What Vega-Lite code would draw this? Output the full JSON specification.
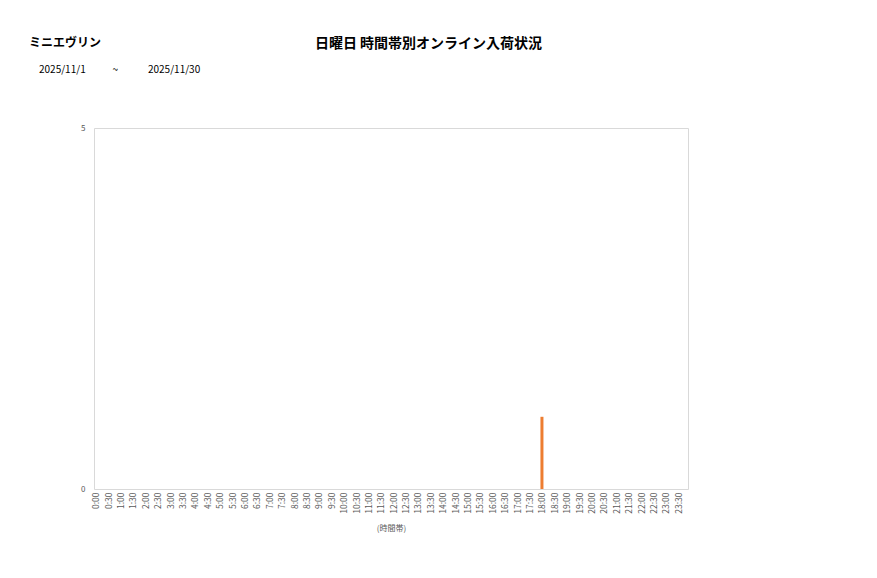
{
  "$schema": "https://vega.github.io/schema/vega-lite/v6.json",
  "autosize": "none",
  "width": 594,
  "height": 361,
  "padding": {"left": 94, "top": 128, "right": 189, "bottom": 89},
  "background": "white",
  "config": {
    "font": "Noto Sans CJK JP",
    "view": {"stroke": "#d9d9d9", "strokeWidth": 1}
  },
  "title": {
    "text": "ミニエヴリン",
    "subtitle": "\u200b　2025/11/1　　\u00a0\u00a0\u00a0~　　　2025/11/30",
    "anchor": "start",
    "frame": "group",
    "dx": -65,
    "dy": 40,
    "offset": 0,
    "fontSize": 12,
    "fontWeight": "bold",
    "color": "#000000",
    "subtitleFontSize": 10,
    "subtitleColor": "#000000",
    "subtitlePadding": 15
  },
  "data": {
    "values": [
      {"time": "0:00", "count": 0}, {"time": "0:30", "count": 0},
      {"time": "1:00", "count": 0}, {"time": "1:30", "count": 0},
      {"time": "2:00", "count": 0}, {"time": "2:30", "count": 0},
      {"time": "3:00", "count": 0}, {"time": "3:30", "count": 0},
      {"time": "4:00", "count": 0}, {"time": "4:30", "count": 0},
      {"time": "5:00", "count": 0}, {"time": "5:30", "count": 0},
      {"time": "6:00", "count": 0}, {"time": "6:30", "count": 0},
      {"time": "7:00", "count": 0}, {"time": "7:30", "count": 0},
      {"time": "8:00", "count": 0}, {"time": "8:30", "count": 0},
      {"time": "9:00", "count": 0}, {"time": "9:30", "count": 0},
      {"time": "10:00", "count": 0}, {"time": "10:30", "count": 0},
      {"time": "11:00", "count": 0}, {"time": "11:30", "count": 0},
      {"time": "12:00", "count": 0}, {"time": "12:30", "count": 0},
      {"time": "13:00", "count": 0}, {"time": "13:30", "count": 0},
      {"time": "14:00", "count": 0}, {"time": "14:30", "count": 0},
      {"time": "15:00", "count": 0}, {"time": "15:30", "count": 0},
      {"time": "16:00", "count": 0}, {"time": "16:30", "count": 0},
      {"time": "17:00", "count": 0}, {"time": "17:30", "count": 0},
      {"time": "18:00", "count": 1}, {"time": "18:30", "count": 0},
      {"time": "19:00", "count": 0}, {"time": "19:30", "count": 0},
      {"time": "20:00", "count": 0}, {"time": "20:30", "count": 0},
      {"time": "21:00", "count": 0}, {"time": "21:30", "count": 0},
      {"time": "22:00", "count": 0}, {"time": "22:30", "count": 0},
      {"time": "23:00", "count": 0}, {"time": "23:30", "count": 0}
    ]
  },
  "mark": {"type": "bar", "width": 3, "color": "#ED7D31"},
  "encoding": {
    "x": {
      "field": "time",
      "type": "ordinal",
      "sort": null,
      "scale": {"type": "point", "padding": 0.46, "align": 0.15},
      "axis": {
        "title": "(時間帯)",
        "titleFontSize": 8,
        "titleFontWeight": "normal",
        "titleColor": "#595959",
        "titlePadding": 11,
        "labelAngle": -90,
        "labelFontSize": 8.5,
        "labelColor": "#595959",
        "labelPadding": 3,
        "ticks": false,
        "domain": false
      }
    },
    "y": {
      "field": "count",
      "type": "quantitative",
      "scale": {"domain": [0, 5]},
      "axis": {
        "values": [0, 5],
        "grid": false,
        "ticks": false,
        "domain": false,
        "labelFontSize": 8,
        "labelColor": "#595959",
        "labelPadding": 9,
        "title": "日曜日 時間帯別オンライン入荷状況",
        "titleAngle": 0,
        "titleX": 334,
        "titleY": -85,
        "titleAlign": "center",
        "titleBaseline": "middle",
        "titleFontSize": 14,
        "titleFontWeight": "bold",
        "titleColor": "#000000"
      }
    }
  }
}
